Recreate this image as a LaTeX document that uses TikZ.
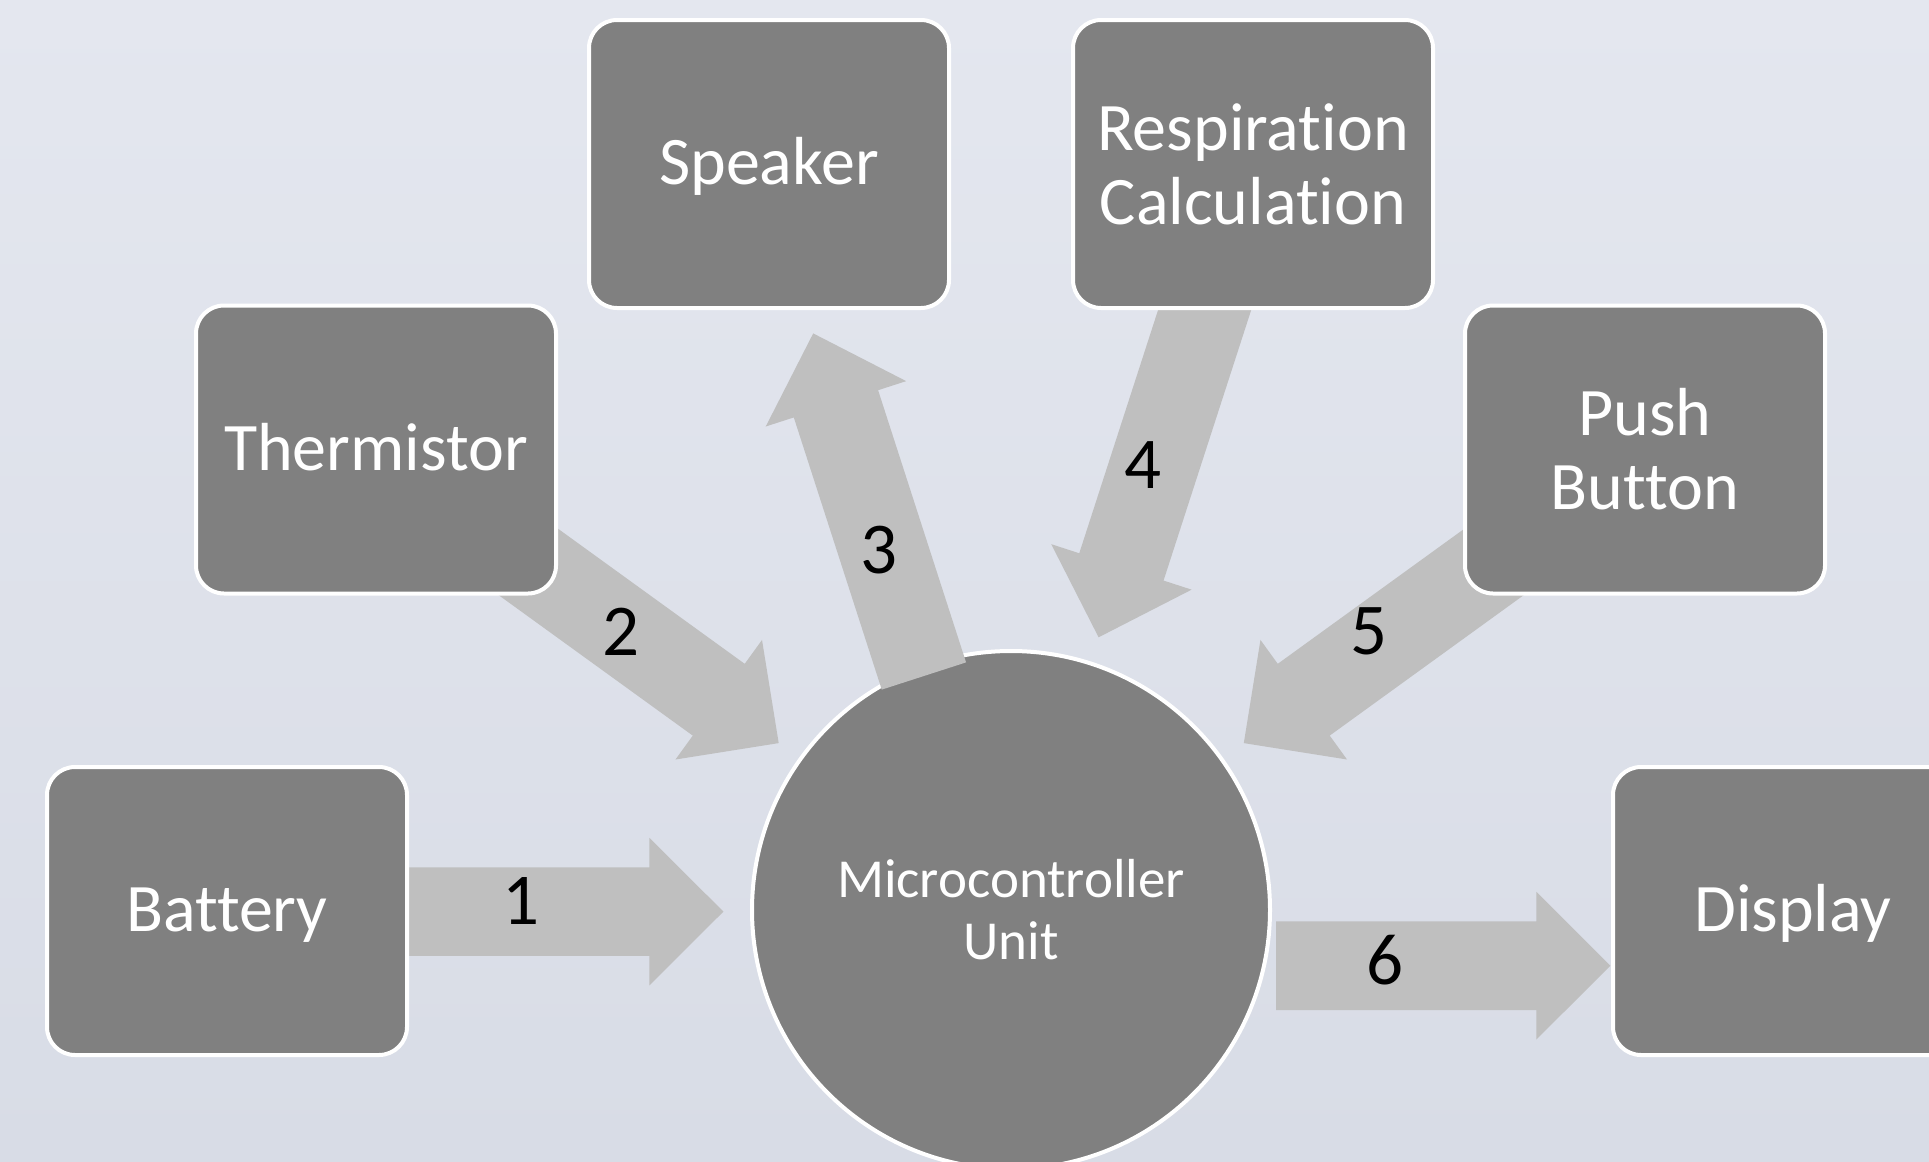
\documentclass[tikz,border=0pt]{standalone}
\usepackage{fontspec}
\setmainfont{Carlito}[Ligatures={NoCommon}]
\usetikzlibrary{calc}
\definecolor{bgtop}{HTML}{E4E7EF}
\definecolor{bgbot}{HTML}{D8DCE6}
\definecolor{boxgray}{HTML}{808080}
\definecolor{arrowgray}{HTML}{BFBFBF}
\newcommand{\arrSW}{22.15pt}
\newcommand{\arrHW}{36.9pt}
\newcommand{\arrHL}{37pt}
\newcommand{\blockarrow}[3]{%
  \coordinate (#1h) at ($(#3)!\arrHL!(#2)$);
  \fill[arrowfill] ($(#2)!\arrSW!90:(#3)$) -- ($(#1h)!\arrSW!90:(#3)$) -- ($(#1h)!\arrHW!90:(#3)$) -- (#3)
    -- ($(#1h)!\arrHW!-90:(#3)$) -- ($(#1h)!\arrSW!-90:(#3)$) -- ($(#2)!\arrSW!-90:(#3)$) -- cycle;}
\begin{document}
\begin{tikzpicture}[x=0.5pt, y=-0.5pt,
  box/.style={draw=white, line width=2pt, fill=boxgray, rounded corners=14pt,
    minimum width=180pt, minimum height=144pt, text=white, align=center,
    font=\fontsize{34}{37}\selectfont, inner sep=0pt},
  oneline/.style={text height=27.5pt, text depth=6.8pt},
  mcu/.style={circle, draw=white, line width=2pt, fill=boxgray, minimum size=259pt,
    inner sep=0pt, text=white, align=center, font=\fontsize{27.5}{31}\selectfont},
  arrowfill/.style={fill=arrowgray},
  num/.style={text=black, font=\fontsize{36.5}{40}\selectfont, inner sep=0pt}]
\useasboundingbox (0,0) rectangle (1929,1162);
\clip (0,0) rectangle (1929,1162);
\shade[top color=bgtop, bottom color=bgbot] (0,0) rectangle (1929,1162);

% central unit
\node[mcu] (mcu) at (1011,910) {Microcontroller\\Unit};

% arrow end points
\coordinate (a1s) at (400,911.6);   \coordinate (a1t) at (723.4,911.6);
\coordinate (a2s) at (519.6,555.6); \coordinate (a2t) at (778.7,743.1);
\coordinate (a3s) at (923.9,676.0); \coordinate (a3t) at (813.2,333.4);
\coordinate (a4s) at (1216.1,274.6); \coordinate (a4t) at (1098.6,637.3);
\coordinate (a5s) at (1502.8,555.6); \coordinate (a5t) at (1243.8,743.1);
\coordinate (a6s) at (1276,965.7);  \coordinate (a6t) at (1610.4,965.7);

\blockarrow{a1}{a1s}{a1t}
\blockarrow{a2}{a2s}{a2t}
\blockarrow{a3}{a3s}{a3t}
\blockarrow{a4}{a4s}{a4t}
\blockarrow{a5}{a5s}{a5t}
\blockarrow{a6}{a6s}{a6t}

% boxes
\node[box, oneline] (battery) at (227,911) {Battery};
\node[box, oneline] (therm) at (376,449.5) {Thermistor};
\node[box, oneline] (speaker) at (769,164) {Speaker};
\node[box] (resp) at (1253,164) {Respiration\\Calculation};
\node[box] (push) at (1645,449.5) {Push\\Button};
\node[box, oneline] (display) at (1793,911) {Display};

% labels
\node[num] (l1) at (521,901) {1};
\node[num] (l2) at (621,632) {2};
\node[num] (l3) at (879,550) {3};
\node[num] (l4) at (1143,465) {4};
\node[num] (l5) at (1369,631) {5};
\node[num] (l6) at (1385,960) {6};
\end{tikzpicture}
\end{document}
